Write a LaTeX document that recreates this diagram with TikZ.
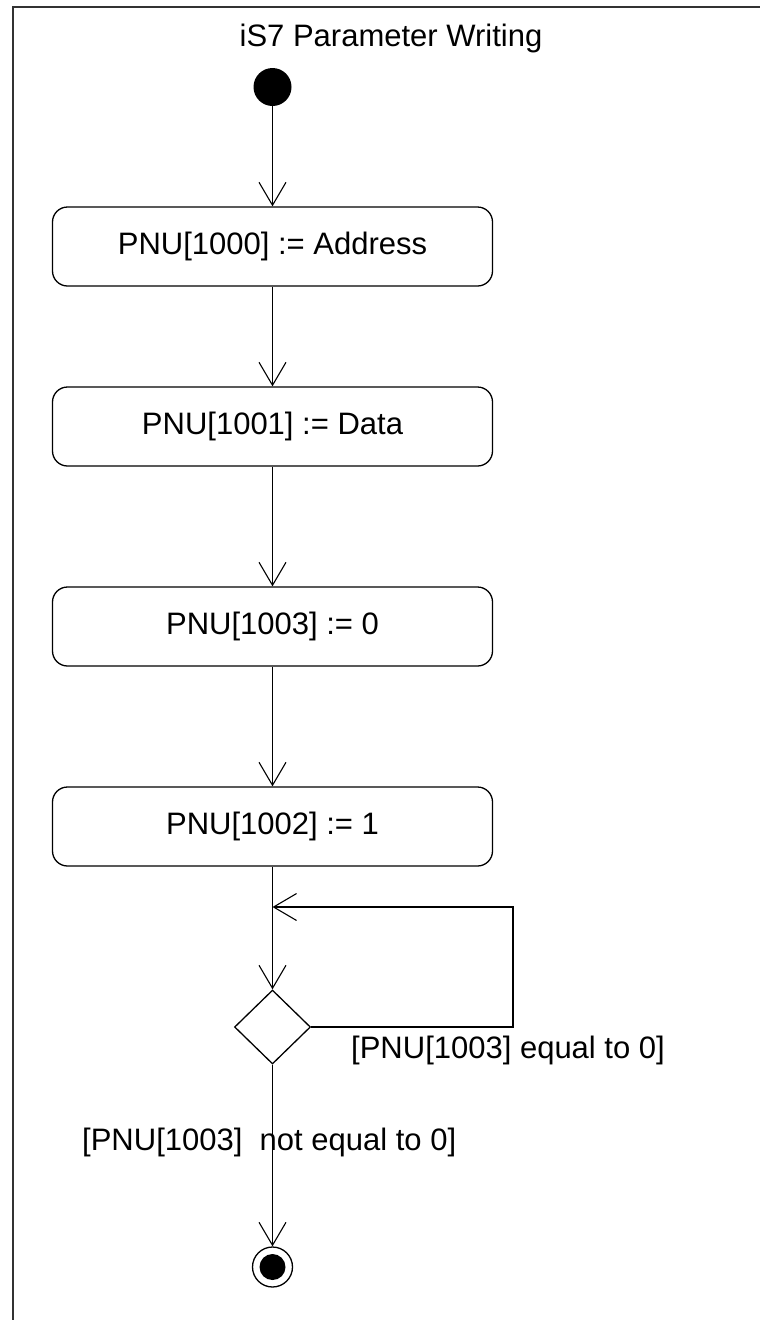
\documentclass[tikz,border=0pt]{standalone}
\usepackage{fontspec}
\setmainfont{Liberation Sans}
\usetikzlibrary{arrows.meta,shapes.geometric}
\tikzset{
  actbox/.style={draw=black, line width=1.3pt, rounded corners=15pt, minimum width=440pt, minimum height=79pt, inner sep=0pt, font=\fontsize{31}{37}\selectfont},
  flow/.style={draw=black, line width=1.1pt, -{Straight Barb[length=23pt,width=27pt,line width=1.1pt]}},
  plain/.style={draw=black, line width=1.1pt},
  lbl/.style={inner sep=0pt, font=\fontsize{31}{37}\selectfont},
}
\begin{document}
\begin{tikzpicture}[x=1pt,y=-1pt]
\useasboundingbox (0,0) rectangle (760,1320);
\fill[white] (0,0) rectangle (760,1320);
% frame
\draw[line width=2pt, black!80] (13,1322) -- (13,6.5) -- (762,6.5);
% title
\node[lbl] (title) at (391,38) {iS7 Parameter Writing};
% initial
\node[circle, fill=black, minimum size=38pt, inner sep=0pt] (init) at (272.5,87) {};
% actions
\node[actbox] (b1) at (272.5,246.5) {PNU[1000] := Address};
\node[actbox] (b2) at (272.5,426.5) {PNU[1001] := Data};
\node[actbox] (b3) at (272.5,626.5) {PNU[1003] := 0};
\node[actbox] (b4) at (272.5,826.5) {PNU[1002] := 1};
% decision
\node[diamond, draw=black, line width=1.3pt, minimum width=76pt, minimum height=74pt, inner sep=0pt] (dia) at (272.5,1027) {};
% final
\node[circle, draw=black, line width=1.3pt, minimum size=40pt, inner sep=0pt] (fin) at (272.5,1267) {};
\node[circle, fill=black, minimum size=26pt, inner sep=0pt] (finin) at (fin.center) {};
\coordinate (loopin) at (272.5,907);
\coordinate (loopa) at (513,1027);
\coordinate (loopb) at (513,907);
% connectors
\draw[flow] (init) -- (b1);
\draw[flow] (b1) -- (b2);
\draw[flow] (b2) -- (b3);
\draw[flow] (b3) -- (b4);
\draw[flow] (b4) -- (dia);
\draw[flow] (dia.east) -- (loopa) -- (loopb) -- (loopin);
\draw[flow] (dia) -- (fin);
% guards
\node[lbl, anchor=west] (g1) at (351,1050) {[PNU[1003] equal to 0]};
\node[lbl, anchor=west] (g2) at (82,1142) {[PNU[1003]\ \ not equal to 0]};
\end{tikzpicture}
\end{document}
